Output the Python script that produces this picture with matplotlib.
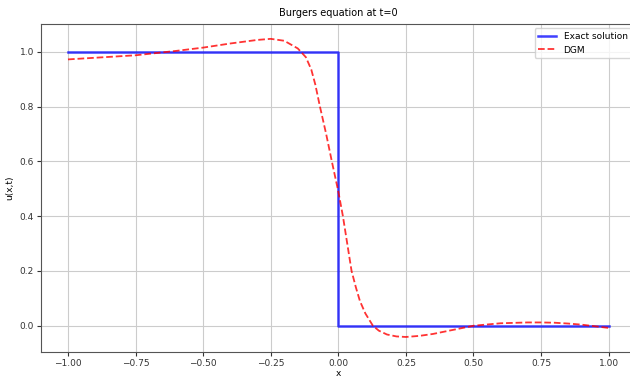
import matplotlib
matplotlib.use('Agg')
import matplotlib.pyplot as plt
import numpy as np

# exact step solution at t=0
x_exact = [-1.0, 0.0, 0.0, 1.0]
u_exact = [1.0, 1.0, 0.0, 0.0]

# DGM approximation
x_dgm = [-1.0, -0.9, -0.75, -0.6, -0.5, -0.4, -0.3, -0.25, -0.2, -0.15, -0.12,
         -0.1, -0.085, -0.068, -0.045, -0.024, 0.0, 0.017, 0.033, 0.049, 0.065,
         0.08, 0.1, 0.128, 0.15, 0.18, 0.215, 0.25, 0.3, 0.35, 0.42, 0.5, 0.6,
         0.7, 0.75, 0.8, 0.85, 0.9, 0.95, 1.0]
u_dgm = [0.972, 0.978, 0.987, 1.003, 1.015, 1.03, 1.043, 1.047, 1.04, 1.012, 0.98,
         0.935, 0.88, 0.8, 0.7, 0.6, 0.49, 0.4, 0.3, 0.2, 0.14,
         0.09, 0.045, 0.0, -0.018, -0.032, -0.039, -0.041, -0.037, -0.03, -0.016, 0.0, 0.009,
         0.012, 0.012, 0.011, 0.008, 0.004, -0.002, -0.008]

plt.rcParams['font.size'] = 6.5
fig = plt.figure(figsize=(6.3, 3.8), dpi=100)
ax = fig.add_axes([0.065, 0.074, 0.944, 0.863])
ax.plot(x_exact, u_exact, color='blue', linewidth=1.8, alpha=0.75, label='Exact solution')
ax.plot(x_dgm, u_dgm, color='red', linestyle='--', linewidth=1.3, alpha=0.8, label='DGM')
ax.set_title('Burgers equation at t=0', fontsize=7)
ax.set_xlabel('x', fontsize=6.5, labelpad=1)
ax.set_ylabel('u(x,t)', fontsize=6.5)
ax.set_xticks(np.arange(-1.0, 1.01, 0.25))
ax.grid(True, color='#cccccc', linewidth=0.8)
for s in ax.spines.values():
    s.set_color('#555555')
ax.tick_params(colors='#333333', length=3, pad=2)
ax.legend(loc='upper right', fontsize=6.5, framealpha=0.8)

fig.savefig('out.png', dpi=100)
